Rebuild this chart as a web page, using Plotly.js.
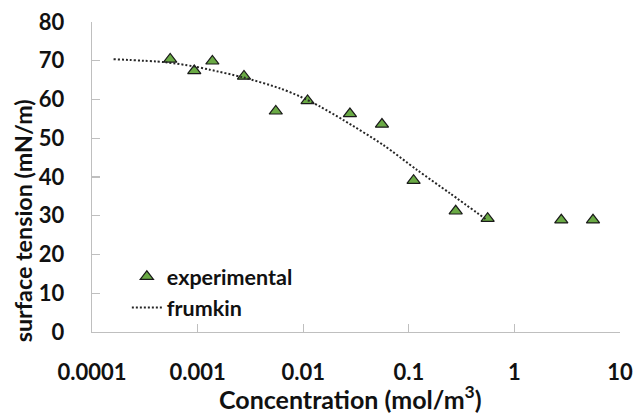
<!DOCTYPE html>
<html>
<head>
<meta charset="utf-8">
<script src="https://cdn.plot.ly/plotly-3.0.1.min.js"></script>
<style>
  html, body { margin: 0; padding: 0; background: #fff; }
  #chart { width: 635px; height: 414px; }
</style>
</head>
<body>
<div id="chart"></div>
<script>
// Measured surface tension vs. concentration
const expConc    = [0.00055, 0.00093, 0.00138, 0.00275, 0.0055, 0.011, 0.0277, 0.0557, 0.111, 0.278, 0.558, 2.78, 5.55];
const expTension = [70.4, 67.4, 69.9, 66.0, 57.0, 59.7, 56.3, 53.6, 39.1, 31.2, 29.3, 28.9, 28.9];

// Frumkin isotherm fit
const fitConc    = [0.00016, 0.0005, 0.0009, 0.0013, 0.0027, 0.006, 0.0093, 0.0144, 0.024, 0.057, 0.12, 0.245, 0.55];
const fitTension = [70.4, 69.6, 68.6, 67.7, 65.7, 62.9, 60.8, 58.2, 54.7, 48.3, 41.8, 35.8, 28.9];

// Axis ticks and titles
const xTickVals = [0.0001, 0.001, 0.01, 0.1, 1, 10];
const xTickText = ['0.0001', '0.001', '0.01', '0.1', '1', '10'];
const xTitle = 'Concentration (mol/m<sup>3</sup>)';
const yTitle = 'surface tension (mN/m)';

const FONT = 'Lato, "Open Sans", sans-serif';
const INK = '#111111';

const traces = [
  {
    x: expConc, y: expTension,
    type: 'scatter', mode: 'markers', name: 'experimental',
    marker: { symbol: 'triangle-up', size: 11.5, color: '#6aaa45',
              line: { color: '#1a1a1a', width: 1.2 } }
  },
  {
    x: fitConc, y: fitTension,
    type: 'scatter', mode: 'lines', name: 'frumkin',
    line: { color: '#262626', width: 2, dash: '2px,2px', shape: 'spline', smoothing: 0.8 }
  }
];

const layout = {
  width: 635, height: 414,
  margin: { l: 92, r: 15, t: 22, b: 82 },
  paper_bgcolor: '#ffffff', plot_bgcolor: '#ffffff',
  font: { family: FONT, color: INK },
  showlegend: true,
  legend: {
    x: 0.066, y: 0.245, xanchor: 'left', yanchor: 'top',
    bgcolor: 'rgba(0,0,0,0)',
    font: { family: FONT, size: 21.5, weight: 'bold', color: INK }
  },
  xaxis: {
    type: 'log', range: [-4, 1],
    tickvals: xTickVals, ticktext: xTickText,
    ticks: 'inside', ticklen: 8, tickwidth: 1.3, tickcolor: '#bfbfbf',
    showline: true, linecolor: '#bfbfbf', linewidth: 1.3,
    showgrid: false, zeroline: false,
    ticklabelstandoff: 20,
    tickfont: { family: FONT, size: 22, weight: 'bold', color: INK }
  },
  yaxis: {
    range: [0, 80], dtick: 10,
    ticks: 'inside', ticklen: 8, tickwidth: 1.3, tickcolor: '#bfbfbf',
    showline: true, linecolor: '#bfbfbf', linewidth: 1.3,
    showgrid: false, zeroline: false,
    ticklabelstandoff: 22,
    tickfont: { family: FONT, size: 22, weight: 'bold', color: INK }
  },
  annotations: [
    { text: xTitle, xref: 'paper', yref: 'paper', x: 0.489, y: -0.212,
      xanchor: 'center', yanchor: 'middle', showarrow: false,
      font: { family: FONT, size: 25, weight: 'bold', color: INK } },
    { text: yTitle, xref: 'paper', yref: 'paper', x: -0.129, y: 0.36,
      xanchor: 'center', yanchor: 'middle', showarrow: false, textangle: -90,
      font: { family: FONT, size: 23.3, weight: 'bold', color: INK } }
  ]
};

Plotly.newPlot('chart', traces, layout, { staticPlot: true, displayModeBar: false });
</script>
</body>
</html>
